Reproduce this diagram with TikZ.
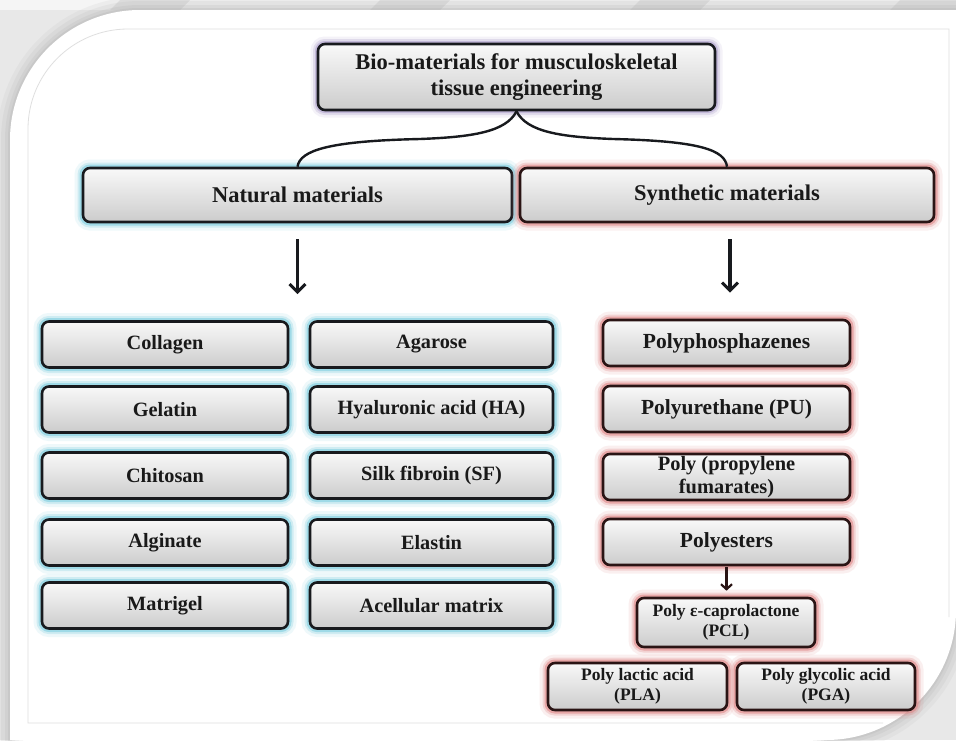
\documentclass[tikz,border=0pt]{standalone}
\usepackage{fontspec}
\setmainfont{Liberation Serif}
\usetikzlibrary{arrows.meta}
\definecolor{glowN}{HTML}{7FCFE0}
\definecolor{glowS}{HTML}{E08A8A}
\definecolor{glowT}{HTML}{A898C8}
\definecolor{edge}{HTML}{181A1E}
\definecolor{edgeS}{HTML}{2A1414}
\tikzset{
  box/.style={rounded corners=7pt, line width=2.6pt, draw=edge, top color=gray!5, bottom color=gray!40,
    align=center, inner sep=2pt, text=black!90},
  big/.style={font=\bfseries\fontsize{22.5}{23}\selectfont},
  topf/.style={font=\bfseries\fontsize{22.5}{26.5}\selectfont},
  natf/.style={font=\bfseries\fontsize{20.3}{21}\selectfont},
  synf/.style={font=\bfseries\fontsize{21.5}{22}\selectfont},
  mid/.style={font=\bfseries\fontsize{20.4}{23.5}\selectfont},
  small/.style={font=\bfseries\fontsize{17.5}{20.5}\selectfont},
  glowNat/.style={preaction={draw=glowN, line width=17pt, opacity=0.13},
    preaction={draw=glowN, line width=11pt, opacity=0.28},
    preaction={draw=glowN, line width=7pt, opacity=0.6}},
  glowSyn/.style={draw=edgeS, preaction={draw=glowS, line width=17pt, opacity=0.13},
    preaction={draw=glowS, line width=11pt, opacity=0.28},
    preaction={draw=glowS, line width=7pt, opacity=0.6}},
  glowTop/.style={preaction={draw=glowT, line width=15pt, opacity=0.12},
    preaction={draw=glowT, line width=10pt, opacity=0.25},
    preaction={draw=glowT, line width=6pt, opacity=0.5}},
  colA/.style={box, glowNat, natf, minimum width=246pt, minimum height=46pt},
  colB/.style={box, glowNat, natf, minimum width=243pt, minimum height=46pt},
  colC/.style={box, glowSyn, synf, minimum width=247pt, minimum height=46pt},
  arr/.style={line width=3.2pt, draw=edge, -{Straight Barb[length=8pt, width=16pt, line width=3pt]}},
  arrS/.style={line width=2.2pt, draw=edgeS, -{Straight Barb[length=5pt, width=11pt, line width=2.2pt]}},
  brace/.style={line width=2.4pt, draw=edge},
}
\begin{document}
\begin{tikzpicture}[x=1pt, y=-1pt]
\useasboundingbox (0,0) rectangle (956,740);
% background
\fill[gray!18] (0,0) rectangle (956,740);
\fill[gray!8] (0,0) rectangle (956,10);
\foreach \s in {120,380,640,900}{
  \fill[gray!22] (\s,0) -- (\s+70,0) -- (\s+60,10) -- (\s-10,10) -- cycle;
}
% panel halo
\foreach \w/\o in {26/0.10,18/0.12,10/0.15,4/0.2}{
  \draw[gray!70, line width=\w pt, opacity=\o] (10,760) -- (10,140) arc[start angle=180, end angle=270, radius=130] -- (976,10);
  \draw[gray!70, line width=\w pt, opacity=\o] (976,610) -- (956,610) arc[start angle=0, end angle=90, radius=130] -- (826,760);
}
\fill[white] (10,740) -- (10,140) arc[start angle=180, end angle=270, radius=130] -- (956,10)
  -- (956,610) arc[start angle=0, end angle=90, radius=130] -- cycle;
\draw[gray!25, line width=0.8pt] (883,723) -- (28,723) -- (28,129) arc[start angle=180, end angle=270, radius=100]
  -- (949,29) -- (949,617);

% top
\node[box, glowTop, topf, minimum width=397pt, minimum height=66pt] (top) at (516.5,77)
  {Bio-materials for musculoskeletal\\tissue engineering};
\node[box, glowNat, big, minimum width=429pt, minimum height=54pt] (nat) at (297.5,195) {Natural materials};
\node[box, glowSyn, big, minimum width=414pt, minimum height=54pt] (syn) at (727,195) {Synthetic materials};

% braces
\draw[brace] (top.south) .. controls (506,132) and (472,137) .. (420,139)
  .. controls (330,141) and (300,150) .. (nat.north);
\draw[brace] (top.south) .. controls (527,132) and (561,137) .. (613,139)
  .. controls (700,141) and (725,150) .. (syn.north);

% natural column A
\node[colA] (a1) at (165,344.5) {Collagen};
\node[colA] (a2) at (165,409.5) {Gelatin};
\node[colA] (a3) at (165,475.5) {Chitosan};
\node[colA] (a4) at (165,542.5) {Alginate};
\node[colA] (a5) at (165,605.5) {Matrigel};
% natural column B
\node[colB] (b1) at (431.5,344.5) {Agarose};
\node[colB] (b2) at (431.5,409.5) {Hyaluronic acid (HA)};
\node[colB] (b3) at (431.5,475.5) {Silk fibroin (SF)};
\node[colB] (b4) at (431.5,542.5) {Elastin};
\node[colB] (b5) at (431.5,605.5) {Acellular matrix};
% synthetic column
\node[colC] (c1) at (726.5,343) {Polyphosphazenes};
\node[colC] (c2) at (726.5,409) {Polyurethane (PU)};
\node[colC, mid] (c3) at (726.5,477) {Poly (propylene\\fumarates)};
\node[colC] (c4) at (726.5,542) {Polyesters};
\node[box, glowSyn, small, minimum width=178pt, minimum height=49pt] (pcl) at (726,622.5) {Poly ε-caprolactone\\(PCL)};
\node[box, glowSyn, small, minimum width=179pt, minimum height=47pt] (pla) at (637.5,686.5) {Poly lactic acid\\(PLA)};
\node[box, glowSyn, small, minimum width=178pt, minimum height=47pt] (pga) at (826,686.5) {Poly glycolic acid\\(PGA)};

% arrows
\draw[arr, shorten <=16pt, shorten >=26pt] (nat.south) -- (nat.south |- b1.north);
\draw[arr, shorten <=16pt, shorten >=26pt] ([xshift=3pt]syn.south) -- ([xshift=3pt]syn.south |- c1.north);
\draw[arrS, shorten <=1pt, shorten >=6pt] (c4.south) -- (c4.south |- pcl.north);
\end{tikzpicture}
\end{document}
